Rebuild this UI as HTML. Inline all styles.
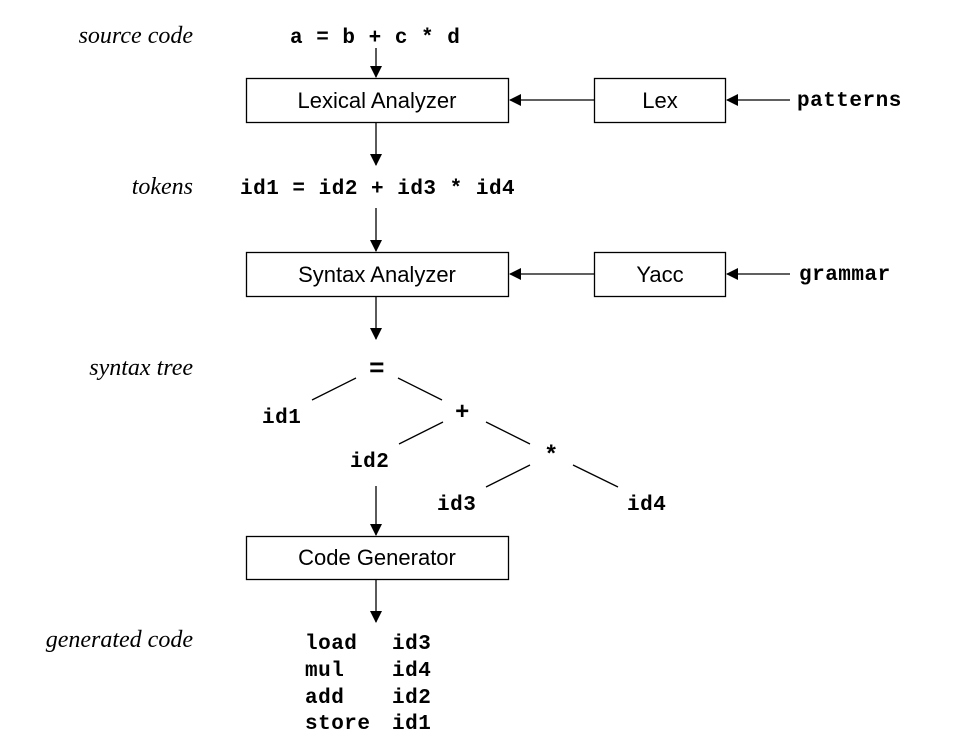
<!DOCTYPE html>
<html><head><meta charset="utf-8"><style>
html,body{margin:0;padding:0;background:#fff}
svg{display:block}
.m{font-family:"Liberation Mono",monospace;font-weight:bold;font-size:21px;letter-spacing:0.5px;white-space:pre}
.s{font-family:"Liberation Sans",sans-serif;font-size:22px;text-anchor:middle}
.i{font-family:"Liberation Serif",serif;font-style:italic;font-size:24px;text-anchor:end}
</style></head><body>
<svg width="964" height="751" viewBox="0 0 964 751" xmlns="http://www.w3.org/2000/svg" xml:space="preserve">
<defs><marker id="a" markerWidth="12" markerHeight="12" refX="11" refY="6" orient="auto" markerUnits="userSpaceOnUse"><path d="M0,0 L12,6 L0,12 Z" fill="#000"/></marker></defs>
<g stroke="#000" stroke-width="1.3" fill="none">
<rect x="246.5" y="78.5" width="262" height="44"/>
<rect x="594.5" y="78.5" width="131" height="44"/>
<rect x="246.5" y="252.5" width="262" height="44"/>
<rect x="594.5" y="252.5" width="131" height="44"/>
<rect x="246.5" y="536.5" width="262" height="43"/>
<line x1="376" y1="48" x2="376" y2="77" marker-end="url(#a)"/>
<line x1="376" y1="123" x2="376" y2="165" marker-end="url(#a)"/>
<line x1="376" y1="208" x2="376" y2="251" marker-end="url(#a)"/>
<line x1="376" y1="297" x2="376" y2="339" marker-end="url(#a)"/>
<line x1="376" y1="486" x2="376" y2="535" marker-end="url(#a)"/>
<line x1="376" y1="580" x2="376" y2="622" marker-end="url(#a)"/>
<line x1="594" y1="100" x2="510" y2="100" marker-end="url(#a)"/>
<line x1="790" y1="100" x2="727" y2="100" marker-end="url(#a)"/>
<line x1="594" y1="274" x2="510" y2="274" marker-end="url(#a)"/>
<line x1="790" y1="274" x2="727" y2="274" marker-end="url(#a)"/>
<line x1="356" y1="378" x2="312" y2="400"/>
<line x1="398" y1="378" x2="442" y2="400"/>
<line x1="443" y1="422" x2="399" y2="444"/>
<line x1="486" y1="422" x2="530" y2="444"/>
<line x1="530" y1="465" x2="486" y2="487"/>
<line x1="573" y1="465" x2="618" y2="487"/>
</g>
<text class="i" x="193" y="43">source code</text>
<text class="i" x="193" y="194">tokens</text>
<text class="i" x="193" y="375">syntax tree</text>
<text class="i" x="193" y="647">generated code</text>
<text class="s" x="377" y="108">Lexical Analyzer</text>
<text class="s" x="660" y="108">Lex</text>
<text class="s" x="377" y="282">Syntax Analyzer</text>
<text class="s" x="660" y="282">Yacc</text>
<text class="s" x="377" y="565">Code Generator</text>
<text class="m" x="290" y="43">a = b + c * d</text>
<text class="m" x="240" y="194">id1 = id2 + id3 * id4</text>
<text class="m" x="797" y="106">patterns</text>
<text class="m" x="799" y="280">grammar</text>
<text class="m" x="369" y="376" style="font-size:26px">=</text>
<text class="m" x="262" y="423">id1</text>
<text class="m" x="455" y="419" style="font-size:24px">+</text>
<text class="m" x="544" y="462" style="font-size:24px">*</text>
<text class="m" x="350" y="467">id2</text>
<text class="m" x="437" y="510">id3</text>
<text class="m" x="627" y="510">id4</text>
<text class="m" x="305" y="649">load</text><text class="m" x="392" y="649">id3</text>
<text class="m" x="305" y="676">mul</text><text class="m" x="392" y="676">id4</text>
<text class="m" x="305" y="703">add</text><text class="m" x="392" y="703">id2</text>
<text class="m" x="305" y="729">store</text><text class="m" x="392" y="729">id1</text>
</svg>
</body></html>
